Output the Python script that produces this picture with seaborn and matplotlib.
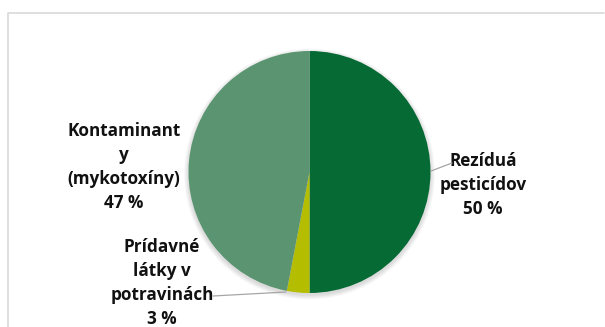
import numpy as np
import matplotlib
matplotlib.use("Agg")
import matplotlib.pyplot as plt
import seaborn as sns
from matplotlib.patches import Circle

# data
categories = ["Rezíduá\npesticídov", "Prídavné\nlátky v\npotravinách", "Kontaminant\ny\n(mykotoxíny)"]
shares = [50, 3, 47]
colors = ["#056a33", "#b5bd00", "#5a9470"]

sns.set_theme(style="white")
plt.rcParams['font.family'] = ['Open Sans', 'DejaVu Sans']

W, H = 605, 327
fig = plt.figure(figsize=(W / 100, H / 100), dpi=100)
ax = fig.add_axes([0, 0, 1, 1])

cx, cy, r = 309.5, 172, 121

# soft shadow
for i in range(6):
    ax.add_patch(Circle((cx, cy + 2), r + 0.5 + i * 0.8, color="black",
                        alpha=0.022, lw=0, zorder=0))

# y axis runs downward, so start at -90 and go "counterclock" to look clockwise from top
wedges, _ = ax.pie(shares, colors=colors, startangle=-90, counterclock=True,
                   radius=r, center=(cx, cy),
                   wedgeprops=dict(linewidth=0), frame=True)
for w in wedges:
    w.set_zorder(2)
ax.set_xlim(0, W)
ax.set_ylim(H, 0)
ax.set_aspect("equal")
ax.axis("off")

# labels
pos = [(483, 185), (162, 283), (124, 167)]
for name, v, (x, y) in zip(categories, shares, pos):
    ax.text(x, y, f"{name}\n{v} %", ha="center", va="center", fontsize=12.3,
            fontweight="bold", color="#111111", linespacing=1.42, zorder=3)

# leader lines
ax.plot([452, 431], [163, 171], color="#a6a6a6", lw=0.9, zorder=3)
ax.plot([213, 286], [296, 292], color="#a6a6a6", lw=0.9, zorder=3)

# chart border
ax.plot([8, 8, 604], [327, 12.5, 12.5], color="#d9d9d9", lw=1.2, zorder=1)

fig.savefig("out.png", dpi=100)
